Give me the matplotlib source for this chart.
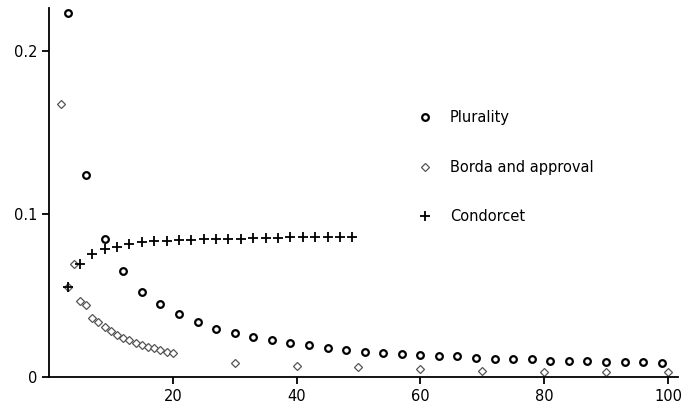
import matplotlib.pyplot as plt

# Plurality, every third n
plur_n = list(range(3, 100, 3))
plur_p = [0.2233, 0.124, 0.085, 0.065, 0.052, 0.0448, 0.0387, 0.0337, 0.0294,
          0.027, 0.0245, 0.0227, 0.0208, 0.0196, 0.0178, 0.0166, 0.0155, 0.0147,
          0.0141, 0.0138, 0.013, 0.013, 0.0118, 0.011, 0.011, 0.0112, 0.0098,
          0.0098, 0.0098, 0.0092, 0.0092, 0.0092, 0.0086]

# Borda and approval
borda_n = list(range(2, 21)) + [30, 40, 50, 60, 70, 80, 90, 100]
borda_p = [0.1675, 0.0555, 0.0693, 0.0468, 0.0442, 0.036, 0.034, 0.0305, 0.028,
           0.026, 0.024, 0.0225, 0.021, 0.0198, 0.0185, 0.0175, 0.0165, 0.0155,
           0.0145, 0.0088, 0.0069, 0.0059, 0.0047, 0.0039, 0.0033, 0.0033, 0.003]

# Condorcet, odd n
cond_n = list(range(3, 50, 2))
cond_p = [0.0555, 0.0693, 0.0755, 0.0783, 0.080, 0.0816, 0.0826, 0.0832, 0.0836,
          0.084, 0.0842, 0.0844, 0.0846, 0.0848, 0.085, 0.0852, 0.0854, 0.0855,
          0.0857, 0.0858, 0.0859, 0.086, 0.0861, 0.0862]

plt.rcParams['font.family'] = ['DejaVu Sans']

fig = plt.figure(figsize=(6.84, 4.04), dpi=100)
ax = fig.add_axes([0.0716, 0.0668, 0.9194, 0.9132])

ax.plot(plur_n, plur_p, 'o', ms=4.8, mfc='white', mec='black', mew=1.6,
        ls='none', label='Plurality')
ax.plot(borda_n, borda_p, 'D', ms=4.0, mfc='white', mec='#555555', mew=0.9,
        ls='none', label='Borda and approval')
ax.plot(cond_n, cond_p, '+', ms=6.5, mec='black', mew=1.3,
        ls='none', label='Condorcet')

ax.set_xlim(0, 101.6)
ax.set_ylim(0, 0.2264)
ax.set_xticks([20, 40, 60, 80, 100])
ax.set_yticks([0, 0.1, 0.2])
ax.set_yticklabels(['0', '0.1', '0.2'])
for s in ['top', 'right']:
    ax.spines[s].set_visible(False)
for s in ['left', 'bottom']:
    ax.spines[s].set_linewidth(1.3)
ax.tick_params(direction='out', length=5, width=1.3, labelsize=10.5)

ax.legend(loc='upper left', bbox_to_anchor=(0.566, 0.759), frameon=False,
          labelspacing=2.37, handletextpad=1.2, fontsize=10.5, handlelength=1)

plt.savefig('out.png', dpi=100)
